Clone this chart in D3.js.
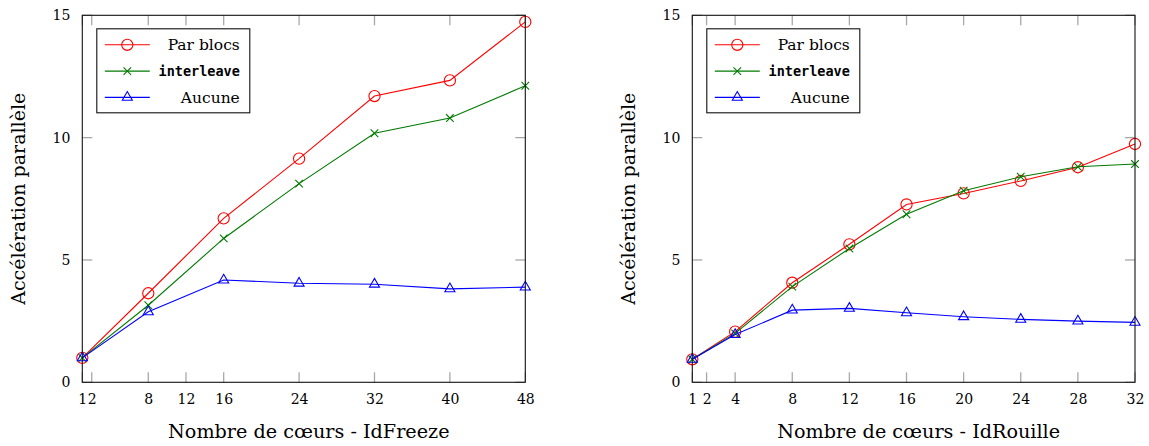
<!DOCTYPE html>
<html><head><meta charset="utf-8">
<script src="https://cdn.jsdelivr.net/npm/d3@7"></script>
<style>body{margin:0;background:#fff}svg{display:block}</style>
</head><body>
<script>
// ---- data ----
const seriesNames = ["Par blocs", "interleave", "Aucune"];
const yTicks = [0, 5, 10, 15];

const xLeft = [1, 8, 16, 24, 32, 40, 48];
const xTicksLeft = [1, 2, 8, 12, 16, 24, 32, 40, 48];
const parBlocsLeft   = [1.0, 3.64, 6.70, 9.14, 11.70, 12.34, 14.73];
const interleaveLeft = [1.0, 3.15, 5.88, 8.12, 10.18, 10.80, 12.12];
const aucuneLeft     = [1.0, 2.88, 4.18, 4.05, 4.01, 3.82, 3.89];

const xRight = [1, 4, 8, 12, 16, 20, 24, 28, 32];
const xTicksRight = [1, 2, 4, 8, 12, 16, 20, 24, 28, 32];
const parBlocsRight   = [0.94, 2.07, 4.07, 5.64, 7.27, 7.72, 8.23, 8.79, 9.74];
const interleaveRight = [0.94, 2.00, 3.91, 5.47, 6.87, 7.83, 8.40, 8.81, 8.92];
const aucuneRight     = [0.94, 1.95, 2.95, 3.02, 2.84, 2.68, 2.57, 2.50, 2.45];

const xTitleLeft = "Nombre de cœurs - IdFreeze";
const xTitleRight = "Nombre de cœurs - IdRouille";
const yTitle = "Accélération parallèle";

// ---- style ----
const colors = ["#ff0000", "#007a00", "#0000ff"];
const markers = ["circle", "cross", "triangle"];
const serif = "'DejaVu Serif', serif";
const mono = "'DejaVu Sans Mono', monospace";

const W = 1149, H = 446;
const svg = d3.select("body").append("svg").attr("width", W).attr("height", H);

function drawMarker(g, type, color) {
  if (type === "circle") {
    g.append("circle").attr("r", 5.6).attr("fill", "none").attr("stroke", color).attr("stroke-width", 1.1);
  } else if (type === "cross") {
    const s = 3.8;
    g.append("path").attr("d", `M${-s},${-s}L${s},${s}M${-s},${s}L${s},${-s}`)
      .attr("stroke", color).attr("stroke-width", 1.1).attr("fill", "none");
  } else {
    const r = 5.8;
    g.append("path").attr("d", `M0,${-r}L${r*0.866},${r*0.5}L${-r*0.866},${r*0.5}Z`)
      .attr("stroke", color).attr("stroke-width", 1.1).attr("fill", "none");
  }
}

function panel(x0, x1, xs, xTicks, seriesList, xTitle) {
  const y0 = 382.3, y1 = 15.3;
  const x = d3.scaleLinear().domain([xs[0], xs[xs.length-1]]).range([x0, x1]);
  const y = d3.scaleLinear().domain([0, 15]).range([y0, y1]);
  const g = svg.append("g");
  const tickLen = 10, tickCol = "#a8a8a8";

  const bottomAxis = d3.axisBottom(x).tickValues(xTicks).tickSize(0).tickFormat(d3.format("d"));
  const ab = g.append("g").attr("transform", `translate(0,${y0})`).call(bottomAxis);
  ab.select(".domain").remove();
  ab.selectAll("text").attr("font-family", serif).attr("font-size", 14).attr("fill", "#000").attr("dy", "1.05em").attr("y", 7);

  const leftAxis = d3.axisLeft(y).tickValues(yTicks).tickSize(0).tickFormat(d3.format("d"));
  const al = g.append("g").attr("transform", `translate(${x0},0)`).call(leftAxis);
  al.select(".domain").remove();
  al.selectAll("text").attr("font-family", serif).attr("font-size", 14).attr("fill", "#000").attr("x", -12);

  xTicks.forEach(t => {
    g.append("line").attr("x1", x(t)).attr("x2", x(t)).attr("y1", y0).attr("y2", y0 - tickLen).attr("stroke", tickCol).attr("stroke-width", 1.3);
    g.append("line").attr("x1", x(t)).attr("x2", x(t)).attr("y1", y1).attr("y2", y1 + tickLen).attr("stroke", tickCol).attr("stroke-width", 1.3);
  });
  yTicks.forEach(t => {
    g.append("line").attr("x1", x0).attr("x2", x0 + tickLen).attr("y1", y(t)).attr("y2", y(t)).attr("stroke", tickCol).attr("stroke-width", 1.3);
    g.append("line").attr("x1", x1).attr("x2", x1 - tickLen).attr("y1", y(t)).attr("y2", y(t)).attr("stroke", tickCol).attr("stroke-width", 1.3);
  });

  const line = d3.line().x(d => x(d[0])).y(d => y(d[1]));
  seriesList.forEach((vals, i) => {
    const pts = xs.map((xv, j) => [xv, vals[j]]);
    g.append("path").datum(pts).attr("d", line).attr("fill", "none").attr("stroke", colors[i]).attr("stroke-width", 1.1);
    pts.forEach(p => {
      const m = g.append("g").attr("transform", `translate(${x(p[0])},${y(p[1])})`);
      drawMarker(m, markers[i], colors[i]);
    });
  });

  g.append("rect").attr("x", x0).attr("y", y1).attr("width", x1 - x0).attr("height", y0 - y1)
    .attr("fill", "none").attr("stroke", "#111").attr("stroke-width", 1.1);

  const lx = x0 + 14.5, ly = y1 + 13.5, lw = 153, lh = 84;
  const lg = g.append("g").attr("transform", `translate(${lx},${ly})`);
  lg.append("rect").attr("width", lw).attr("height", lh).attr("fill", "#fff").attr("stroke", "#111").attr("stroke-width", 1.1);
  seriesNames.forEach((name, i) => {
    const ry = 16 + i * 26.3;
    lg.append("line").attr("x1", 8).attr("x2", 53).attr("y1", ry).attr("y2", ry).attr("stroke", colors[i]).attr("stroke-width", 1.1);
    const m = lg.append("g").attr("transform", `translate(30.5,${ry})`);
    drawMarker(m, markers[i], colors[i]);
    lg.append("text").attr("x", 143).attr("y", ry).attr("dy", "0.35em").attr("text-anchor", "end")
      .attr("font-family", i === 1 ? mono : serif).attr("font-size", i === 1 ? 13.5 : 15.5)
      .attr("font-weight", i === 1 ? 600 : 400)
      .text(name);
  });

  g.append("text").attr("x", (x0 + x1) / 2 + 5).attr("y", 438).attr("text-anchor", "middle")
    .attr("font-family", serif).attr("font-size", 19.2).text(xTitle);
  g.append("text").attr("transform", `translate(${x0 - 57},${(y0 + y1) / 2}) rotate(-90)`)
    .attr("text-anchor", "middle").attr("font-family", serif).attr("font-size", 19).text(yTitle);
}

panel(82.3, 525.3, xLeft, xTicksLeft, [parBlocsLeft, interleaveLeft, aucuneLeft], xTitleLeft);
panel(692.3, 1135, xRight, xTicksRight, [parBlocsRight, interleaveRight, aucuneRight], xTitleRight);
</script>
</body></html>
